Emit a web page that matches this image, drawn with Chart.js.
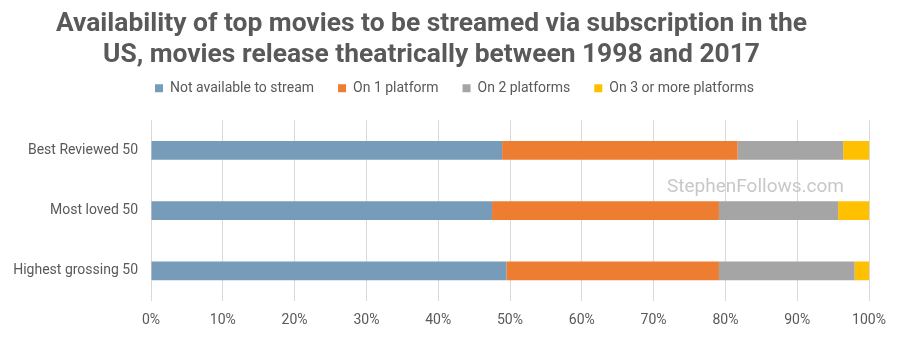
<!DOCTYPE html>
<html>
<head>
<meta charset="utf-8">
<script src="https://cdn.jsdelivr.net/npm/chart.js@4"></script>
<style>
  html, body { margin: 0; padding: 0; background: #fff; }
  #wrap { width: 900px; height: 338px; }
</style>
</head>
<body>
<div id="wrap"><canvas id="myChart" width="900" height="338"></canvas></div>
<script>
var categories = ['Best Reviewed 50', 'Most loved 50', 'Highest grossing 50'];
var notAvailable = [48.9, 47.5, 49.5];
var onePlatform = [32.8, 31.6, 29.6];
var twoPlatforms = [14.7, 16.6, 18.9];
var threePlus = [3.6, 4.3, 2.0];
var tickLabels = ['0%', '10%', '20%', '30%', '40%', '50%', '60%', '70%', '80%', '90%', '100%'];

var grey = '#595959';

// watermark text
var watermark = {
  id: 'watermark',
  beforeDatasetsDraw: function(chart) {
    var c = chart.ctx;
    c.save();
    c.font = '19px Roboto';
    c.fillStyle = '#c8c8c8';
    c.textAlign = 'left';
    c.textBaseline = 'middle';
    c.fillText('StephenFollows.com', 667, 187);
    c.restore();
  }
};

// title sits a bit left of centre, legend a bit right
var nudge = {
  id: 'nudge',
  afterLayout: function(chart) {
    if (chart.titleBlock) { chart.titleBlock.left -= 10; chart.titleBlock.right -= 10; }
    if (chart.legend) { chart.legend.left += 13; chart.legend.right += 13; }
  }
};

var ctx = document.getElementById('myChart').getContext('2d');
var myChart = new Chart(ctx, {
  type: 'bar',
  data: {
    labels: categories,
    datasets: [
      { label: 'Not available to stream', data: notAvailable, backgroundColor: '#779cb9' },
      { label: 'On 1 platform', data: onePlatform, backgroundColor: '#ed7d31' },
      { label: 'On 2 platforms', data: twoPlatforms, backgroundColor: '#a5a5a5' },
      { label: 'On 3 or more platforms', data: threePlus, backgroundColor: '#ffc000' }
    ]
  },
  options: {
    indexAxis: 'y',
    responsive: false,
    animation: false,
    layout: { padding: { left: 14, right: 31, top: 0, bottom: 0 } },
    datasets: { bar: { categoryPercentage: 1, barPercentage: 0.31 } },
    plugins: {
      title: {
        display: true,
        text: ['Availability of top movies to be streamed via subscription in the',
               'US, movies release theatrically between 1998 and 2017'],
        color: grey,
        font: { family: 'Roboto', size: 26.4, weight: 'bold', lineHeight: 1.18 },
        padding: { top: 9, bottom: -14 }
      },
      legend: {
        position: 'top',
        labels: {
          color: grey,
          font: { family: 'Roboto', size: 14 },
          boxWidth: 8,
          boxHeight: 8,
          padding: 24
        }
      },
      tooltip: { enabled: false }
    },
    scales: {
      x: {
        stacked: true,
        min: 0,
        max: 100,
        ticks: {
          stepSize: 10,
          color: grey,
          font: { family: 'Roboto', size: 14 },
          padding: 11,
          callback: function(v, i) { return tickLabels[i]; }
        },
        grid: { color: '#d9d9d9', drawTicks: false },
        border: { display: false },
        afterFit: function(s) { s.height = 37; }
      },
      // empty top axis, only keeps space under the legend
      xTop: {
        position: 'top',
        display: true,
        ticks: { display: false },
        grid: { display: false, drawTicks: false },
        border: { display: false },
        afterFit: function(s) { s.height = 15; }
      },
      y: {
        stacked: true,
        ticks: { color: grey, font: { family: 'Roboto', size: 14 }, padding: 13 },
        grid: { display: false, drawTicks: false },
        border: { display: false },
        afterFit: function(s) { s.width = 137; }
      }
    }
  },
  plugins: [watermark, nudge]
});
</script>
</body>
</html>
